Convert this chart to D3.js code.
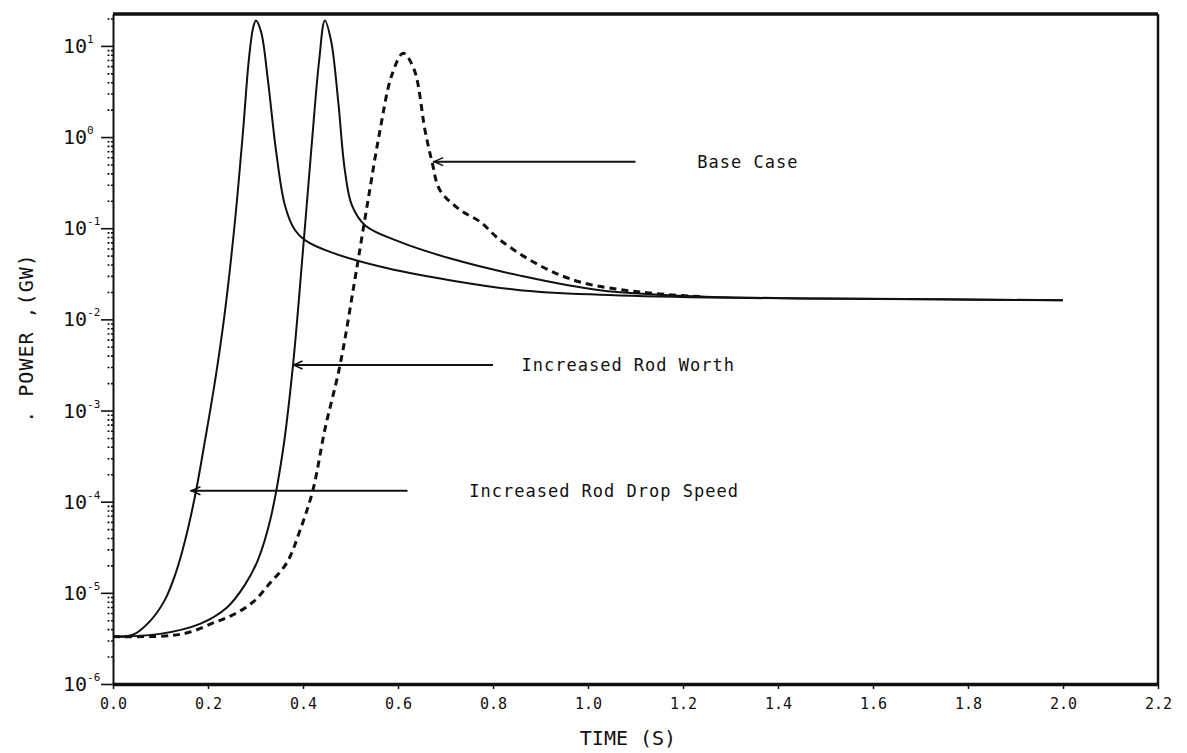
<!DOCTYPE html>
<html>
<head>
<meta charset="utf-8">
<script src="https://cdn.jsdelivr.net/npm/d3@7"></script>
<style>
  body { margin: 0; background: #fff; }
  text { font-family: "DejaVu Sans Mono", "Liberation Mono", monospace; fill: #111; }
</style>
</head>
<body>
<script>
// data: time (s) and log10 of power (GW)
let t_drop   = [0, 0.042, 0.078, 0.109, 0.131, 0.152, 0.173, 0.194, 0.215, 0.236, 0.257, 0.274, 0.286, 0.295, 0.301, 0.312, 0.326, 0.343, 0.362, 0.383, 0.404, 0.457, 0.562, 0.709, 0.857, 1.025, 1.25, 1.446, 1.7, 2.0]
let lp_drop  = [-5.48, -5.46, -5.31, -5.08, -4.80, -4.42, -3.93, -3.32, -2.67, -1.90, -0.91, 0.08, 0.85, 1.20, 1.28, 1.15, 0.63, -0.14, -0.75, -1.02, -1.13, -1.26, -1.42, -1.57, -1.68, -1.73, -1.76, -1.77, -1.78, -1.79]

let t_worth  = [0, 0.099, 0.183, 0.24, 0.278, 0.305, 0.331, 0.358, 0.379, 0.40, 0.419, 0.434, 0.446, 0.459, 0.474, 0.488, 0.503, 0.531, 0.604, 0.709, 0.857, 1.025, 1.236, 1.5, 1.75, 2.0]
let lp_worth = [-5.48, -5.45, -5.34, -5.16, -4.91, -4.64, -4.20, -3.43, -2.50, -1.24, -0.04, 0.84, 1.28, 1.06, 0.40, -0.36, -0.75, -0.97, -1.15, -1.33, -1.52, -1.68, -1.75, -1.77, -1.78, -1.79]

let t_base   = [0, 0.12, 0.162, 0.211, 0.253, 0.295, 0.331, 0.366, 0.394, 0.421, 0.446, 0.478, 0.509, 0.537, 0.562, 0.587, 0.611, 0.634, 0.657, 0.672, 0.688, 0.731, 0.773, 0.815, 0.899, 0.983, 1.109, 1.236]
let lp_base  = [-5.48, -5.47, -5.43, -5.33, -5.24, -5.10, -4.89, -4.67, -4.31, -3.87, -3.21, -2.50, -1.57, -0.69, 0.07, 0.68, 0.92, 0.74, 0.07, -0.28, -0.58, -0.80, -0.93, -1.13, -1.41, -1.59, -1.70, -1.75]

let x_ticks = [0, 0.2, 0.4, 0.6, 0.8, 1.0, 1.2, 1.4, 1.6, 1.8, 2.0, 2.2]
let y_decades = [-6, -5, -4, -3, -2, -1, 0, 1]

// annotations: label, text start t, arrow tip (t, log10 P), arrow tail t
let notes = [
  { label: 'Base Case',                 tx: 1.23, tip: [0.674, -0.27], tail: 1.10 },
  { label: 'Increased Rod Worth',       tx: 0.86, tip: [0.378, -2.50], tail: 0.80 },
  { label: 'Increased Rod Drop Speed',  tx: 0.75, tip: [0.163, -3.88], tail: 0.62 }
]

let W = 1187, H = 753
let mLeft = 113, mRight = 1158, mTop = 14, mBottom = 684

let svg = d3.select('body').append('svg')
    .attr('width', W)
    .attr('height', H)

let x = d3.scaleLinear().domain([0, 2.2]).range([mLeft, mRight])
let y = d3.scaleLog().domain([1e-6, Math.pow(10, 1.35)]).range([mBottom, mTop])

// frame: thick top, right edge
svg.append('line').attr('x1', mLeft).attr('x2', mRight).attr('y1', mTop).attr('y2', mTop)
    .attr('stroke', '#111').attr('stroke-width', 3.5)
svg.append('line').attr('x1', mRight).attr('x2', mRight).attr('y1', mTop).attr('y2', mBottom)
    .attr('stroke', '#111').attr('stroke-width', 2.5)

// x axis
let xAxis = svg.append('g')
    .attr('transform', `translate(0,${mBottom})`)
    .call(d3.axisBottom(x).tickValues(x_ticks).tickSize(5).tickSizeOuter(0).tickFormat(d3.format('.1f')))
xAxis.select('.domain').attr('stroke', '#111').attr('stroke-width', 3.5)
xAxis.selectAll('.tick line').attr('stroke', '#111').attr('stroke-width', 1.5)
xAxis.selectAll('.tick text')
    .attr('dy', '1.15em')
    .style('font-family', '"DejaVu Sans Mono", monospace')
    .style('font-size', '15px')
    .attr('fill', '#111')

// y axis: minor ticks 2..9 within each decade
let minor = []
y_decades.slice(0, -1).forEach(e => { for (let k = 2; k <= 9; k++) minor.push(k * Math.pow(10, e)) })
minor.push(20)

let yMinor = svg.append('g')
    .attr('transform', `translate(${mLeft},0)`)
    .call(d3.axisLeft(y).tickValues(minor).tickSize(7).tickFormat(''))
yMinor.select('.domain').remove()
yMinor.selectAll('.tick line').attr('stroke', '#111').attr('stroke-width', 1.6).attr('stroke-dasharray', '2,1.5')

let yAxis = svg.append('g')
    .attr('transform', `translate(${mLeft},0)`)
    .call(d3.axisLeft(y).tickValues(y_decades.map(e => Math.pow(10, e))).tickSize(12).tickSizeOuter(0).tickFormat(''))
yAxis.select('.domain').attr('stroke', '#111').attr('stroke-width', 2)
yAxis.selectAll('.tick line').attr('stroke', '#111').attr('stroke-width', 1.6)

let ylab = svg.append('g').selectAll('text')
    .data(y_decades)
    .join('text')
    .attr('x', 63)
    .attr('y', d => y(Math.pow(10, d)) + 7)
    .style('font-size', '20px')
ylab.append('tspan').text('10')
ylab.append('tspan')
    .attr('dy', -10)
    .style('font-size', '11px')
    .text(d => d === 0 ? '0' : d === 1 ? '1' : '-' + (-d))

// axis titles
svg.append('text')
    .attr('transform', `translate(33,338) rotate(-90)`)
    .attr('text-anchor', 'middle')
    .style('font-size', '20px')
    .style('letter-spacing', '1px')
    .text('. POWER ,(GW)')
svg.append('text')
    .attr('x', 628)
    .attr('y', 745)
    .attr('text-anchor', 'middle')
    .style('font-size', '20px')
    .text('TIME (S)')

// curves
let line = d3.line()
    .x(d => x(d[0]))
    .y(d => y(Math.pow(10, d[1])))
    .curve(d3.curveCatmullRom.alpha(0.5))

let series = [
  { t: t_drop,  lp: lp_drop,  dash: null },
  { t: t_worth, lp: lp_worth, dash: null },
  { t: t_base,  lp: lp_base,  dash: '7,5' }
]
series.forEach(s => {
  svg.append('path')
      .datum(d3.zip(s.t, s.lp))
      .attr('d', line)
      .attr('fill', 'none')
      .attr('stroke', '#111')
      .attr('stroke-width', s.dash ? 3 : 2)
      .attr('stroke-dasharray', s.dash)
})

// annotations with arrows
notes.forEach(n => {
  let ty = y(Math.pow(10, n.tip[1]))
  let tx = x(n.tip[0])
  svg.append('line')
      .attr('x1', tx).attr('y1', ty)
      .attr('x2', x(n.tail)).attr('y2', ty)
      .attr('stroke', '#111').attr('stroke-width', 2)
  svg.append('path')
      .attr('d', `M${tx + 10},${ty - 4} L${tx + 1},${ty} L${tx + 10},${ty + 4}`)
      .attr('fill', 'none').attr('stroke', '#111').attr('stroke-width', 1.5)
  svg.append('text')
      .attr('x', x(n.tx))
      .attr('y', ty + 6)
      .style('font-size', '17px')
      .style('letter-spacing', '1px')
      .text(n.label)
})
</script>
</body>
</html>
